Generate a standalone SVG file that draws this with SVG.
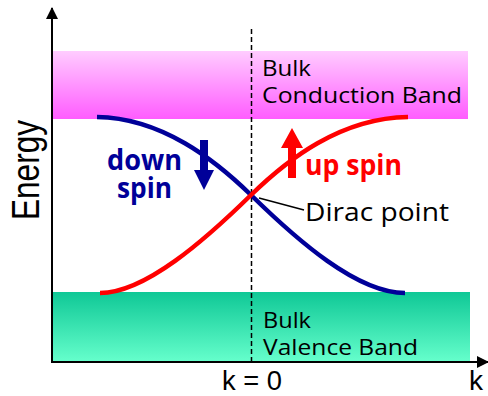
<svg xmlns="http://www.w3.org/2000/svg" width="488" height="396" viewBox="0 0 488 396">
<defs>
<linearGradient id="gPink" x1="0" y1="0" x2="0" y2="1">
<stop offset="0" stop-color="#ffccff"/>
<stop offset="1" stop-color="#ff5cff"/>
</linearGradient>
<linearGradient id="gGreen" x1="0" y1="0" x2="0" y2="1">
<stop offset="0" stop-color="#0fc896"/>
<stop offset="1" stop-color="#66ffcc"/>
</linearGradient>
<marker id="axHead" viewBox="0 0 12 12" refX="11" refY="6" markerWidth="12" markerHeight="12" markerUnits="userSpaceOnUse" orient="auto">
<path d="M0,0 L12,6 L0,12 Z" fill="#000"/>
</marker>
</defs>
<style>
text{font-family:"Open Sans","Liberation Sans",sans-serif;fill:#000}
.lbl{font-size:22px}
.big{font-size:28px;font-family:"Liberation Sans","Open Sans",sans-serif}
.bold{font-weight:bold;font-size:28px}
.curve{fill:none;stroke-width:4.5;stroke-linecap:butt}
</style>
<g id="conduction-band">
<rect x="53" y="51" width="415" height="68" fill="url(#gPink)"/>
<text class="lbl" x="262" y="76" textLength="49" lengthAdjust="spacingAndGlyphs">Bulk</text>
<text class="lbl" x="262" y="103" textLength="200" lengthAdjust="spacingAndGlyphs">Conduction Band</text>
</g>
<g id="valence-band">
<rect x="53" y="292" width="417" height="70" fill="url(#gGreen)"/>
<text class="lbl" x="263" y="328" textLength="48" lengthAdjust="spacingAndGlyphs">Bulk</text>
<text class="lbl" x="263" y="355" textLength="155" lengthAdjust="spacingAndGlyphs">Valence Band</text>
</g>
<g id="connectors">
<line x1="251.5" y1="29" x2="251.5" y2="362" stroke="#000" stroke-width="1.5" stroke-dasharray="5,3"/>
<line x1="52" y1="362" x2="52" y2="8" stroke="#000" stroke-width="2" marker-end="url(#axHead)"/>
<line x1="51" y1="362" x2="488" y2="362" stroke="#000" stroke-width="2" marker-end="url(#axHead)"/>
<line x1="259" y1="198" x2="304" y2="210" stroke="#000" stroke-width="1.3"/>
</g>
<g id="down-spin-band">
<path class="curve" stroke="#000099" d="M97,117 C162,118 215,160 251,195 C297,240 357,293 405,293"/>
<path d="M200,140 H208 V170 H214 L204,190 L194,170 H200 Z" fill="#000099"/>
<text class="bold" x="107" y="170" style="fill:#000099" textLength="75" lengthAdjust="spacingAndGlyphs">down</text>
<text class="bold" x="117" y="198" style="fill:#000099" textLength="55" lengthAdjust="spacingAndGlyphs">spin</text>
</g>
<g id="up-spin-band">
<path class="curve" stroke="#ff0000" d="M100,293 C145,293 205,240 251,195 C287,160 340,118 408,117"/>
<path d="M288,178 H296 V148 H303 L292,128 L281,148 H288 Z" fill="#ff0000"/>
<text class="bold" x="305" y="175" style="fill:#ff0000" textLength="97" lengthAdjust="spacingAndGlyphs">up spin</text>
</g>
<g id="dirac-point">
<text x="305" y="221" style="font-size:25px" textLength="144" lengthAdjust="spacingAndGlyphs">Dirac point</text>
</g>
<g id="axis-labels">
<text style="font-size:31px;font-family:'Liberation Sans','Open Sans',sans-serif" transform="translate(39,220) scale(1.25,1) rotate(-90)" x="0" y="0" textLength="100" lengthAdjust="spacingAndGlyphs">Energy</text>
<text class="big" x="222" y="390" textLength="60" lengthAdjust="spacingAndGlyphs">k = 0</text>
<text class="big" x="469" y="390">k</text>
</g>
</svg>
